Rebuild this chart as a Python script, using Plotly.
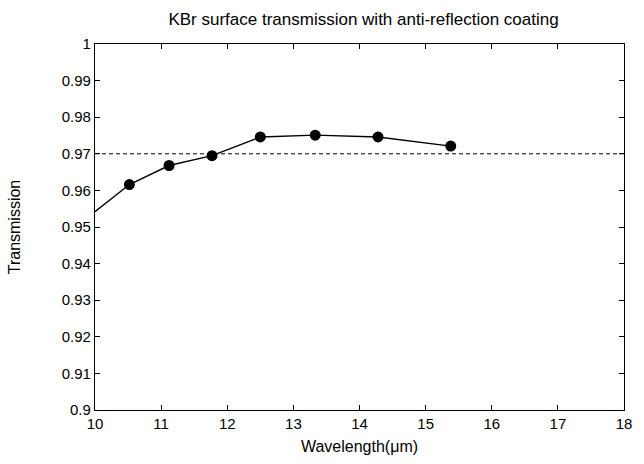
import plotly.graph_objects as go

wavelength = [10.52, 11.12, 11.77, 12.50, 13.33, 14.28, 15.38]
transmission = [0.9616, 0.9668, 0.9695, 0.9746, 0.9751, 0.9746, 0.9721]
line_start_x = [10.0]
line_start_y = [0.9542]
threshold = 0.97
x_ticks = list(range(10, 19))
y_ticks = [0.9, 0.91, 0.92, 0.93, 0.94, 0.95, 0.96, 0.97, 0.98, 0.99, 1.0]
y_tick_labels = ["0.9", "0.91", "0.92", "0.93", "0.94", "0.95", "0.96", "0.97", "0.98", "0.99", "1"]

font = "Liberation Sans, Arial, Helvetica, sans-serif"

fig = go.Figure()
fig.add_trace(go.Scatter(
    x=[10, 18], y=[threshold, threshold], mode="lines",
    line=dict(color="black", width=1, dash="4px,3px"), showlegend=False, hoverinfo="skip"))
fig.add_trace(go.Scatter(
    x=line_start_x + wavelength, y=line_start_y + transmission, mode="lines",
    line=dict(color="black", width=1.4), showlegend=False))
fig.add_trace(go.Scatter(
    x=wavelength, y=transmission, mode="markers",
    marker=dict(color="black", size=11), showlegend=False))

axis_common = dict(
    showline=True, linecolor="black", linewidth=1.2, mirror="allticks",
    ticks="inside", ticklen=5, tickcolor="black", tickwidth=1,
    showgrid=False, zeroline=False,
    tickfont=dict(family=font, size=15, color="black"),
)
fig.update_xaxes(range=[10, 18], tickvals=x_ticks,
                 title=dict(text="Wavelength(μm)", font=dict(family=font, size=16, color="black"), standoff=9),
                 **axis_common)
fig.update_yaxes(range=[0.9, 1.0], tickvals=y_ticks, ticktext=y_tick_labels,
                 title=dict(text="Transmission", font=dict(family=font, size=16, color="black"), standoff=37),
                 **axis_common)
fig.update_layout(
    width=644, height=464,
    margin=dict(l=95, r=12, t=44, b=53),
    paper_bgcolor="white", plot_bgcolor="white",
    title=dict(text="KBr surface transmission with anti-reflection coating",
               x=0.5645, xanchor="center", y=0.96, yanchor="middle",
               font=dict(family=font, size=17, color="black")),
)
fig.write_html("out.html")
